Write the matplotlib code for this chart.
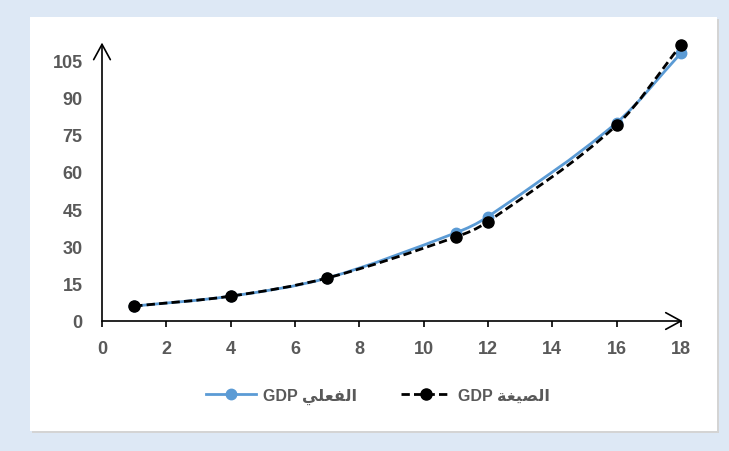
import numpy as np
import matplotlib
matplotlib.use('Agg')
import matplotlib.pyplot as plt
from matplotlib.path import Path
from matplotlib.patches import PathPatch, Rectangle
from matplotlib.lines import Line2D

# data
years = [1, 4, 7, 11, 12, 16, 18]
gdp_actual = [6, 10, 17.3, 35.5, 42, 79.8, 107.8]
gdp_formula = [6, 10, 17.3, 33.8, 40, 78.8, 111]

# legend labels (Arabic in shaped, visual order since matplotlib has no bidi)
label_actual = 'GDP ' + '\ufef2\ufee0\ufecc\ufed4\ufedf\ufe8d'    # الفعلي
label_formula = 'GDP ' + '\ufe94\ufed0\ufef4\ufebc\ufedf\ufe8d'   # الصيغة

xticks = list(range(0, 19, 2))
yticks = list(range(0, 106, 15))

plt.rcParams['font.family'] = ['Liberation Sans', 'DejaVu Sans']
plt.rcParams['font.weight'] = 'bold'
grey = '#595959'
W, H = 729, 452


def smooth_path(x, y):
    # cubic hermite through the points, drawn as bezier segments
    x = np.asarray(x, float)
    y = np.asarray(y, float)
    n = len(x)
    m = np.empty(n)
    m[0] = (y[1] - y[0]) / (x[1] - x[0])
    m[-1] = (y[-1] - y[-2]) / (x[-1] - x[-2])
    m[1:-1] = (y[2:] - y[:-2]) / (x[2:] - x[:-2])
    verts = [(x[0], y[0])]
    codes = [Path.MOVETO]
    for i in range(n - 1):
        h = x[i + 1] - x[i]
        verts += [(x[i] + h / 3, y[i] + m[i] * h / 3),
                  (x[i + 1] - h / 3, y[i + 1] - m[i + 1] * h / 3),
                  (x[i + 1], y[i + 1])]
        codes += [Path.CURVE4] * 3
    return Path(verts, codes)


fig = plt.figure(figsize=(W / 100, H / 100), dpi=100)
fig.patch.set_facecolor('#dde8f5')

# white chart panel with a light shadow
fig.patches.append(Rectangle((32 / W, 1 - 434 / H), 687 / W, 414 / H,
                             transform=fig.transFigure, facecolor='#d4d4d4',
                             edgecolor='none', zorder=-2))
fig.patches.append(Rectangle((30 / W, 1 - 432 / H), 687 / W, 414 / H,
                             transform=fig.transFigure, facecolor='white',
                             edgecolor='none', zorder=-1))

ax = fig.add_axes([102 / W, 1 - 322 / H, 579 / W, 278.4 / H])
ax.set_zorder(1)
ax.set_facecolor('none')
ax.set_xlim(0, 18)
ax.set_ylim(0, 112)

for s in ax.spines.values():
    s.set_visible(False)

# axes with open arrow heads
arrow = dict(arrowstyle='->,head_length=0.55,head_width=0.3', lw=1.2,
             color='black', mutation_scale=20, shrinkA=0, shrinkB=0)
ax.annotate('', xy=(0, 1), xytext=(0, 0), xycoords='axes fraction', arrowprops=arrow)
ax.annotate('', xy=(1.003, 0), xytext=(0, 0), xycoords='axes fraction', arrowprops=arrow)

ax.set_xticks(xticks)
ax.set_yticks(yticks)
ax.tick_params(axis='x', direction='out', length=4.5, width=1.2, color='black',
               pad=9, labelsize=13, labelcolor=grey)
ax.tick_params(axis='y', length=0, pad=14, labelsize=13, labelcolor=grey)

blue = '#5b9bd5'
ax.add_patch(PathPatch(smooth_path(years, gdp_actual), facecolor='none',
                       edgecolor=blue, lw=2.0, zorder=3, capstyle='round'))
ax.plot(years, gdp_actual, 'o', color=blue, ms=7.5, zorder=4, clip_on=False)

ax.add_patch(PathPatch(smooth_path(years, gdp_formula), facecolor='none',
                       edgecolor='black', lw=2.0, linestyle=(0, (3.0, 1.5)),
                       zorder=5))
ax.plot(years, gdp_formula, 'o', color='black', ms=8, zorder=6, clip_on=False)

handles = [
    Line2D([], [], color=blue, lw=2.0, marker='o', ms=7.5),
    Line2D([], [], color='black', lw=2.0, linestyle=(0, (3.0, 1.5)),
           marker='o', ms=8),
]
leg = fig.legend(handles, [label_actual, label_formula], loc='center',
                 bbox_to_anchor=(378 / W, 1 - 397 / H), ncol=2, frameon=False,
                 handlelength=3.1, columnspacing=2.8, handletextpad=0.45,
                 prop={'size': 11.5, 'weight': 'bold'})
for t in leg.get_texts():
    t.set_color(grey)

fig.savefig('out.png', dpi=100, facecolor=fig.get_facecolor())
